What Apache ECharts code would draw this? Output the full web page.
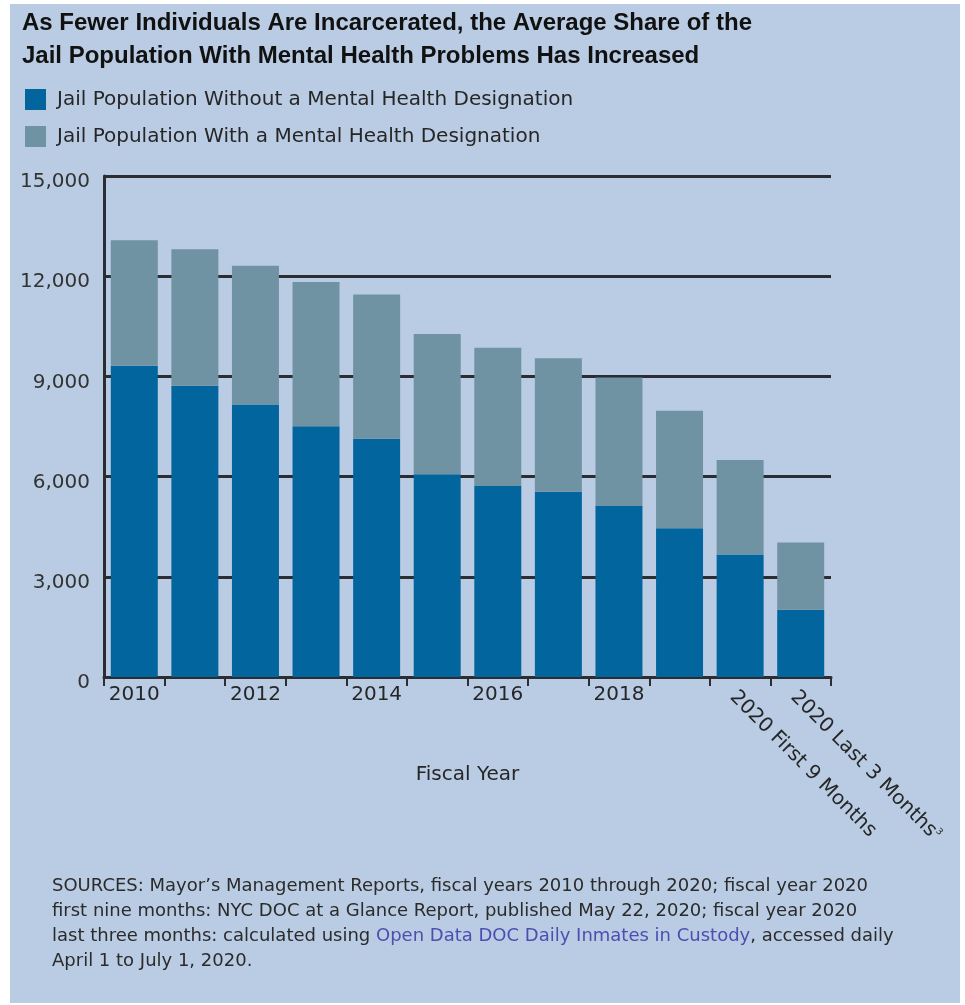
<!DOCTYPE html>
<html>
<head>
<meta charset="utf-8">
<script src="https://cdn.jsdelivr.net/npm/echarts@6/dist/echarts.min.js"></script>
<style>
  html, body { margin: 0; padding: 0; background: #ffffff; }
  #chart { width: 965px; height: 1005px; }
</style>
</head>
<body>
<div id="chart"></div>
<script>
// Fiscal years shown on the category axis
const categories = ['2010', '2011', '2012', '2013', '2014', '2015', '2016', '2017', '2018', '2019',
  '2020 First 9 Months', '2020 Last 3 Months'];

// Average daily jail population, split by mental health designation
const withoutDesignation = [9320, 8720, 8160, 7510, 7130, 6070, 5720, 5550, 5120, 4450, 3670, 2010];
const withDesignation    = [3760, 4090, 4150, 4320, 4320, 4200, 4140, 3990, 3850, 3520, 2830, 2020];

// Tick labels: horizontal year labels and the two slanted partial-year labels
const yearLabels = ['2010', '', '2012', '', '2014', '', '2016', '', '2018', '', '', ''];
const slantedLabels = ['', '', '', '', '', '', '', '', '', '', '2020 First 9 Months', '2020 Last 3 Months{sup|3}'];

const seriesNames = ['Jail Population Without a Mental Health Designation',
  'Jail Population With a Mental Health Designation'];

const titleText = 'As Fewer Individuals Are Incarcerated, the Average Share of the\nJail Population With Mental Health Problems Has Increased';

const sourceText =
  '{n|SOURCES: Mayor\u2019s Management Reports, fiscal years 2010 through 2020; fiscal year 2020}\n' +
  '{n|first nine months: NYC DOC at a Glance Report, published May 22, 2020; fiscal year 2020}\n' +
  '{n|last three months: calculated using }{l|Open Data DOC Daily Inmates in Custody}{n|, accessed daily}\n' +
  '{n|April 1 to July 1, 2020.}';

const FONT = 'DejaVu Sans';
const INK = '#2a2d31';
const DARK = '#03659e';
const GREY = '#7093a3';

const chart = echarts.init(document.getElementById('chart'));

chart.setOption({
  backgroundColor: '#ffffff',
  animation: false,
  graphic: [{
    type: 'rect',
    z: -10,
    silent: true,
    shape: { x: 10, y: 4, width: 950, height: 999 },
    style: { fill: '#b9cce3' }
  }],
  title: [{
    text: titleText,
    left: 22,
    top: 7,
    padding: 0,
    textStyle: {
      fontFamily: 'Liberation Sans',
      fontWeight: 'bold',
      fontSize: 24,
      lineHeight: 33,
      color: '#111111'
    }
  }, {
    text: sourceText,
    left: 52,
    top: 874,
    padding: 0,
    textStyle: {
      fontWeight: 'normal',
      rich: {
        n: { fontFamily: FONT, fontWeight: 'normal', fontSize: 18, lineHeight: 25, color: '#2b2b2b' },
        l: { fontFamily: FONT, fontWeight: 'normal', fontSize: 18, lineHeight: 25, color: '#4a4fb0' }
      }
    }
  }],
  legend: {
    orient: 'vertical',
    left: 25,
    top: 89,
    padding: 0,
    icon: 'rect',
    itemWidth: 21,
    itemHeight: 21,
    itemGap: 16,
    textStyle: { fontFamily: FONT, fontSize: 20, color: '#262626', padding: [0, 0, 0, 6] },
    data: seriesNames
  },
  grid: { left: 104, right: 134, top: 176, bottom: 328 },
  xAxis: [{
    type: 'category',
    data: categories,
    position: 'bottom',
    name: 'Fiscal Year',
    nameLocation: 'middle',
    nameGap: 88,
    nameTextStyle: { fontFamily: FONT, fontSize: 20, color: '#262626' },
    axisLine: { show: true, lineStyle: { color: INK, width: 3 } },
    axisTick: { show: true, interval: 0, length: 9, lineStyle: { color: INK, width: 2 } },
    axisLabel: {
      interval: 0,
      margin: 8,
      fontFamily: FONT,
      fontSize: 20,
      color: '#262626',
      formatter: (v, i) => yearLabels[i]
    },
    splitLine: { show: false }
  }, {
    type: 'category',
    data: categories,
    position: 'bottom',
    axisLine: { show: false },
    axisTick: { show: false },
    splitLine: { show: false },
    axisLabel: {
      interval: 0,
      rotate: -45,
      margin: 10,
      verticalAlign: 'top',
      fontFamily: FONT,
      fontSize: 20,
      color: '#262626',
      formatter: (v, i) => slantedLabels[i],
      rich: {
        sup: { fontFamily: FONT, fontSize: 9, verticalAlign: 'top', color: '#262626' }
      }
    }
  }],
  yAxis: {
    type: 'value',
    min: 0,
    max: 15000,
    interval: 3000,
    axisLine: { show: true, lineStyle: { color: INK, width: 3 } },
    axisTick: { show: false },
    axisLabel: {
      margin: 14,
      fontFamily: FONT,
      fontSize: 20,
      color: '#333333',
      verticalAlign: 'top',
      lineHeight: 12,
      formatter: v => v.toLocaleString('en-US')
    },
    splitLine: { show: true, lineStyle: { color: INK, width: 3 } }
  },
  series: [{
    name: seriesNames[0],
    type: 'bar',
    stack: 'total',
    xAxisIndex: 0,
    barWidth: 47,
    itemStyle: { color: DARK },
    data: withoutDesignation
  }, {
    name: seriesNames[1],
    type: 'bar',
    stack: 'total',
    xAxisIndex: 0,
    barWidth: 47,
    itemStyle: { color: GREY },
    data: withDesignation
  }]
});
</script>
</body>
</html>
